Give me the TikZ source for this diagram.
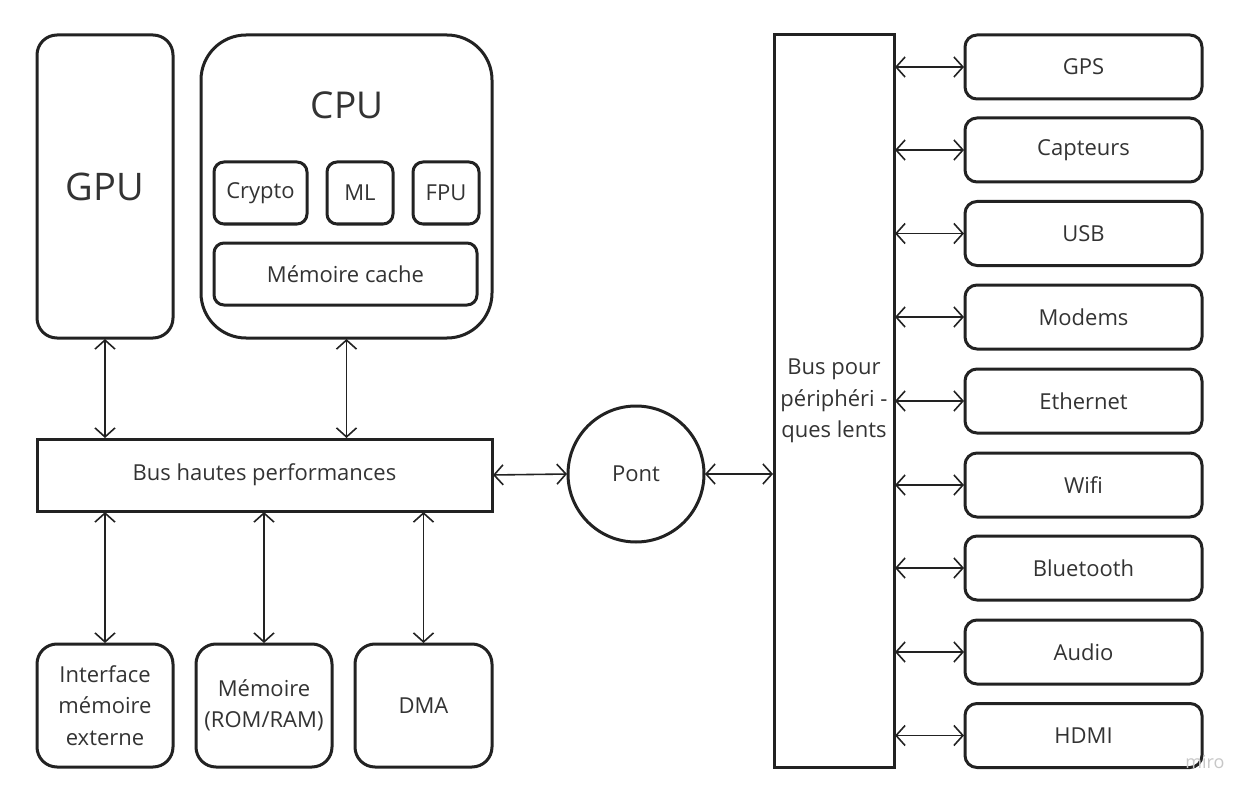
\documentclass[tikz,border=0pt]{standalone}
\usepackage{fontspec}
\setmainfont{Open Sans}
\usetikzlibrary{arrows.meta}
\definecolor{ink}{HTML}{222222}
\definecolor{txt}{HTML}{333333}
\tikzset{
  box/.style={draw=ink, line width=3pt, rounded corners=#1, inner sep=0pt, outer sep=0pt, text=txt,
     font=\fontsize{22}{31.5}\selectfont, align=center},
  box/.default=20pt,
  biarrow/.style={line width=1.6pt, draw=ink, {Straight Barb[length=9pt,width=20pt,line width=1.6pt]}-{Straight Barb[length=9pt,width=20pt,line width=1.6pt]}, shorten <=1pt, shorten >=1pt},
}
\begin{document}
\begin{tikzpicture}[x=1pt,y=-1pt]
\useasboundingbox (0,0) rectangle (1254,797);
% GPU & CPU
\node[box, minimum width=136pt, minimum height=303pt, font=\fontsize{38}{40}\selectfont] (gpu) at (105,186.5) {GPU};
\node[box=45pt, minimum width=291pt, minimum height=303pt] (cpu) at (346.5,186.5) {};
\node[text=txt, font=\fontsize{37}{40}\selectfont, inner sep=0pt] (cpulabel) at (347,105) {CPU};
\node[box=10pt, minimum width=93pt, minimum height=62pt] (crypto) at (260.5,193) {Crypto};
\node[box=10pt, minimum width=66pt, minimum height=62pt] (ml) at (360,193) {ML};
\node[box=10pt, minimum width=66pt, minimum height=62pt] (fpu) at (446,193) {FPU};
\node[box=10pt, minimum width=263pt, minimum height=62pt] (cache) at (345.5,274) {Mémoire cache};
% High performance bus
\node[box=0pt, minimum width=455pt, minimum height=72pt] (bus) at (264.5,475) {Bus hautes performances};
% Bottom boxes
\node[box, minimum width=136pt, minimum height=123pt] (ext) at (105,705.5) {Interface\\mémoire\\externe};
\node[box, minimum width=136pt, minimum height=123pt] (mem) at (264,705.5) {Mémoire\\(ROM/RAM)};
\node[box, minimum width=137pt, minimum height=123pt] (dma) at (423.5,705.5) {DMA};
% Bridge
\node[box, circle, minimum size=136pt] (pont) at (636,474) {Pont};
% Slow bus
\node[box=0pt, minimum width=120pt, minimum height=732pt] (slow) at (834,401) {Bus pour\\périphéri -\\ques lents};
% Peripherals
\foreach \n/\t/\yy in {gps/GPS/67, capt/Capteurs/150, usb/USB/233.5, modem/Modems/317, eth/Ethernet/401, wifi/Wifi/485, bt/Bluetooth/568, audio/Audio/652, hdmi/HDMI/735.5}{
  \node[box=12pt, minimum width=237pt, minimum height=64pt] (\n) at (1083.5,\yy) {\t};
  \draw[biarrow] (slow.east |- \n.west) -- (\n.west);
}
% Connectors
\draw[biarrow] (gpu.south) -- (bus.north -| gpu.south);
\draw[biarrow] (cpu.south) -- (bus.north -| cpu.south);
\draw[biarrow] (bus.south -| ext.north) -- (ext.north);
\draw[biarrow] (bus.south -| mem.north) -- (mem.north);
\draw[biarrow] (bus.south -| dma.north) -- (dma.north);
\draw[biarrow] (bus.east) -- (pont.west);
\draw[biarrow] (pont.east) -- (slow.west |- pont.east);
% watermark
\node[text=black!22, font=\fontsize{18}{18}\selectfont, inner sep=0pt] (miro) at (1205,762) {miro};
\end{tikzpicture}
\end{document}
